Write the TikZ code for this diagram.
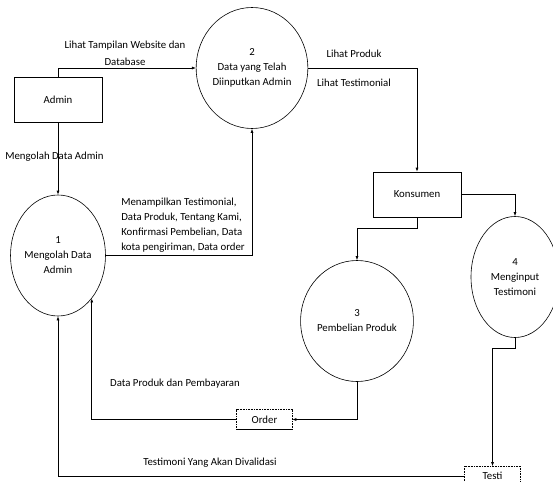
\documentclass[tikz,border=0pt]{standalone}
\usepackage{fontspec}
\setmainfont{Carlito}
\usetikzlibrary{shapes.geometric,arrows.meta}
\tikzset{
	proses/.style={ellipse,draw,minimum width=88pt,minimum height=121pt,inner sep=0pt,align=center},
	entitas/.style={rectangle,draw,minimum width=88pt,minimum height=45pt},
	simpan/.style={rectangle,minimum width=55pt,minimum height=19pt,inner sep=0pt},
	alir/.style={-{Latex[length=4pt,width=3pt]}},
	ket/.style={inner sep=0pt,align=center}
}

\begin{document}
\begin{tikzpicture}[x=1pt,y=-1pt,line width=0.6pt,font=\fontsize{10.8}{15}\selectfont]
				%%%%% START %%%%%
				\def\xkiri{58}
				\def\xdua{252}
				\def\xkons{417}
				\def\xtiga{357}
				\def\xempat{515}

				\useasboundingbox (0,0) rectangle (553,481);

				\node[entitas] (admin) at (\xkiri,100) {Admin};
				\node[proses] (p1) at (\xkiri,255.5) {1\\Mengolah Data\\Admin};
				\node[proses] (p2) at (\xdua,68) {2\\Data yang Telah\\Diinputkan Admin};
				\node[entitas] (kons) at (\xkons,194.5) {Konsumen};
				\node[proses] (p3) at (\xtiga,321) {3\\Pembelian Produk};
				\node[proses] (p4) at (\xempat,277) {4\\Menginput\\Testimoni};
				\node[simpan] (order) at (264.5,419.5) {Order};
				\node[simpan] (testi) at (492.5,476) {Testi};

				\draw[densely dotted] (order.south west) -- (order.north west) -- (order.north east) -- (order.south east);
				\draw (order.south west) -- (order.south east);
				\draw[densely dotted] (testi.south west) -- (testi.north west) -- (testi.north east) -- (testi.south east);

				\node[ket] (lweb) at (125,53.5) {Lihat Tampilan Website dan\\[1.5pt]Database};
				\node[ket] (ladmin) at (54.5,157) {Mengolah Data Admin};
				\node[ket,align=left,anchor=west] (ltampil) at (121,225.5) {Menampilkan Testimonial,\\Data Produk, Tentang Kami,\\Konfirmasi Pembelian, Data\\kota pengiriman, Data order};
				\node[ket] (lproduk) at (354,54) {Lihat Produk};
				\node[ket] (ltesti) at (354,83) {Lihat Testimonial};
				\node[ket] (lbayar) at (175,384) {Data Produk dan Pembayaran};
				\node[ket] (lvalid) at (210,463) {Testimoni Yang Akan Divalidasi};

				\draw[alir] (admin.north) |- (p2.west);
				\draw[alir] (admin) -- (p1);
				\draw[alir] (p1.east) -| (p2.south);
				\draw[alir] (p2.east) -| (kons.north);
				\draw[alir] (kons.east) -| (p4.north);
				\draw[alir] (kons.south) -- ++(0,11) -| (p3.north);
				\draw[alir] (p3.south) |- (order.east);
				\draw[alir] (order.west) -| (p1.south east);
				\draw[alir] (p4.south) -- ++(0,10) -| (testi.north);
				\draw[alir] (testi.west) -| (p1.south);
				%%%%% START %%%%%
\end{tikzpicture}
\end{document}
